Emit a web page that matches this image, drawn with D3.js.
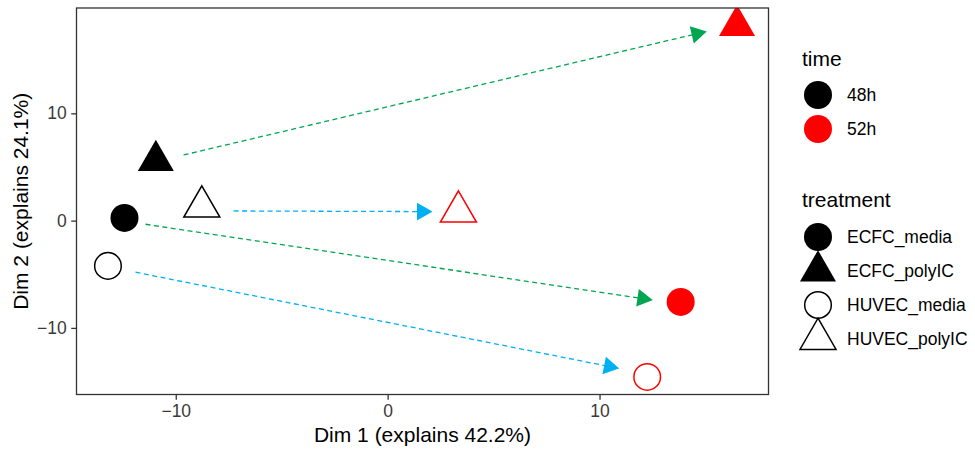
<!DOCTYPE html>
<html>
<head>
<meta charset="utf-8">
<script src="https://cdn.jsdelivr.net/npm/d3@7"></script>
<style>
    html, body { margin: 0; padding: 0; background: #fff; }
    svg { display: block; font-family: "Liberation Sans", Arial, sans-serif; }
</style>
</head>
<body>
<svg id="chart" width="975" height="453"></svg>
<script>
"use strict";

// MDS coordinates, one entry per sample
const treatments = ["ECFC_media", "ECFC_polyIC", "HUVEC_media", "HUVEC_polyIC",
    "ECFC_media", "ECFC_polyIC", "HUVEC_media", "HUVEC_polyIC"];
const times = ["48h", "48h", "48h", "48h", "52h", "52h", "52h", "52h"];
const dim1 = [-12.42, -10.94, -13.20, -8.77, 13.83, 16.49, 12.25, 3.34];
const dim2 = [0.25, 5.59, -4.22, 1.30, -7.58, 18.18, -14.57, 0.84];

// arrows from 48h to 52h (already shortened ends, data units)
const arrowCell = ["ECFC", "ECFC", "HUVEC", "HUVEC"];
const arrowX0 = [-9.63, -11.43, -7.27, -11.90];
const arrowY0 = [6.12, -0.34, 0.90, -4.81];
const arrowX1 = [15.00, 12.45, 2.05, 10.87];
const arrowY1 = [17.61, -7.39, 0.84, -13.76];

const timeLevels = ["48h", "52h"];
const treatmentLevels = ["ECFC_media", "ECFC_polyIC", "HUVEC_media", "HUVEC_polyIC"];
const xTicks = [-10, 0, 10];
const yTicks = [-10, 0, 10];

const timeColors = {"48h": "#000000", "52h": "#FF0000"};
const arrowColors = {"ECFC": "#00A651", "HUVEC": "#00B0F0"};

const panel = {left: 76.5, right: 768.5, top: 8, bottom: 394.5};
const CIRCLE_R = 14;
const TRIANGLE_R = 20.8;

function expand(values) {
    const [lo, hi] = d3.extent(values);
    const pad = (hi - lo) * 0.05;
    return [lo - pad, hi + pad];
}

/**
 * draws a shape of the treatment at cx, cy
 */
function drawShape(g, treatment, cx, cy, color) {
    const filled = treatment.startsWith("ECFC");
    const isTriangle = treatment.endsWith("polyIC");
    let el;
    if (isTriangle) {
        const r = TRIANGLE_R;
        const h = r * Math.sqrt(3) / 2;
        el = g.append("path")
            .attr("d", `M${cx},${cy - r}L${cx + h},${cy + r / 2}L${cx - h},${cy + r / 2}Z`)
            .attr("stroke-linejoin", "miter");
    } else {
        el = g.append("circle")
            .attr("cx", cx)
            .attr("cy", cy)
            .attr("r", filled ? CIRCLE_R : CIRCLE_R - 0.7);
    }
    if (filled) {
        el.attr("fill", color).attr("stroke", "none");
    } else {
        el.attr("fill", "none").attr("stroke", color).attr("stroke-width", 1.5);
    }
}

function main() {
    const svg = d3.select("#chart");

    const x = d3.scaleLinear().domain(expand(dim1)).range([panel.left, panel.right]);
    const y = d3.scaleLinear().domain(expand(dim2)).range([panel.bottom, panel.top]);

    svg.append("defs").append("clipPath")
        .attr("id", "panel-clip")
        .append("rect")
        .attr("x", panel.left)
        .attr("y", panel.top)
        .attr("width", panel.right - panel.left)
        .attr("height", panel.bottom - panel.top);

    const plot = svg.append("g").attr("clip-path", "url(#panel-clip)");

    // arrows
    const headLen = 15.5;
    const headAngle = Math.PI / 6;
    for (let i = 0; i < arrowCell.length; i++) {
        const color = arrowColors[arrowCell[i]];
        const x0 = x(arrowX0[i]), y0 = y(arrowY0[i]);
        const x1 = x(arrowX1[i]), y1 = y(arrowY1[i]);
        const angle = Math.atan2(y1 - y0, x1 - x0);
        const backX = x1 - headLen * Math.cos(headAngle) * Math.cos(angle);
        const backY = y1 - headLen * Math.cos(headAngle) * Math.sin(angle);
        plot.append("line")
            .attr("x1", x0).attr("y1", y0)
            .attr("x2", backX).attr("y2", backY)
            .attr("stroke", color)
            .attr("stroke-width", 1.3)
            .attr("stroke-dasharray", "5,3.5");
        const p1 = [x1 - headLen * Math.cos(angle - headAngle), y1 - headLen * Math.sin(angle - headAngle)];
        const p2 = [x1 - headLen * Math.cos(angle + headAngle), y1 - headLen * Math.sin(angle + headAngle)];
        plot.append("path")
            .attr("d", `M${x1},${y1}L${p1[0]},${p1[1]}L${p2[0]},${p2[1]}Z`)
            .attr("fill", color)
            .attr("stroke", color)
            .attr("stroke-width", 1.3)
            .attr("stroke-linejoin", "miter");
    }

    // points
    for (let i = 0; i < dim1.length; i++) {
        drawShape(plot, treatments[i], x(dim1[i]), y(dim2[i]), timeColors[times[i]]);
    }

    // panel border
    svg.append("rect")
        .attr("x", panel.left)
        .attr("y", panel.top)
        .attr("width", panel.right - panel.left)
        .attr("height", panel.bottom - panel.top)
        .attr("fill", "none")
        .attr("stroke", "#333333")
        .attr("stroke-width", 1.3);

    // axes
    const xAxis = svg.append("g")
        .attr("transform", `translate(0,${panel.bottom})`)
        .call(d3.axisBottom(x).tickValues(xTicks).tickSize(5.3).tickPadding(4.5).tickSizeOuter(0));
    const yAxis = svg.append("g")
        .attr("transform", `translate(${panel.left},0)`)
        .call(d3.axisLeft(y).tickValues(yTicks).tickSize(5.3).tickPadding(4.5).tickSizeOuter(0));
    for (const axis of [xAxis, yAxis]) {
        axis.select(".domain").remove();
        axis.selectAll(".tick line").attr("stroke", "#333333").attr("stroke-width", 1.3);
        axis.selectAll(".tick text")
            .attr("fill", "#3a3a3a")
            .attr("font-size", 17.5)
            .attr("font-family", "'Liberation Sans', Arial, sans-serif");
    }

    svg.append("text")
        .attr("x", (panel.left + panel.right) / 2)
        .attr("y", 442)
        .attr("text-anchor", "middle")
        .attr("font-size", 21)
        .text("Dim 1 (explains 42.2%)");

    svg.append("text")
        .attr("transform", `translate(27.5,${(panel.top + panel.bottom) / 2}) rotate(-90)`)
        .attr("text-anchor", "middle")
        .attr("font-size", 21)
        .text("Dim 2 (explains 24.1%)");

    // legends
    const legend = svg.append("g");
    const keyX = 818;
    const labelX = 847;
    const keyStep = 34;

    legend.append("text").attr("x", 802).attr("y", 66).attr("font-size", 21).text("time");
    timeLevels.forEach((t, i) => {
        const cy = 95 + i * keyStep;
        legend.append("circle").attr("cx", keyX).attr("cy", cy).attr("r", CIRCLE_R).attr("fill", timeColors[t]);
        legend.append("text").attr("x", labelX).attr("y", cy + 6).attr("font-size", 17.5).text(t);
    });

    legend.append("text").attr("x", 802).attr("y", 207).attr("font-size", 21).text("treatment");
    treatmentLevels.forEach((t, i) => {
        const cy = 237 + i * keyStep;
        drawShape(legend, t, keyX, cy, "#000000");
        legend.append("text").attr("x", labelX).attr("y", cy + 6).attr("font-size", 17.5).text(t);
    });
}

main();
</script>
</body>
</html>
